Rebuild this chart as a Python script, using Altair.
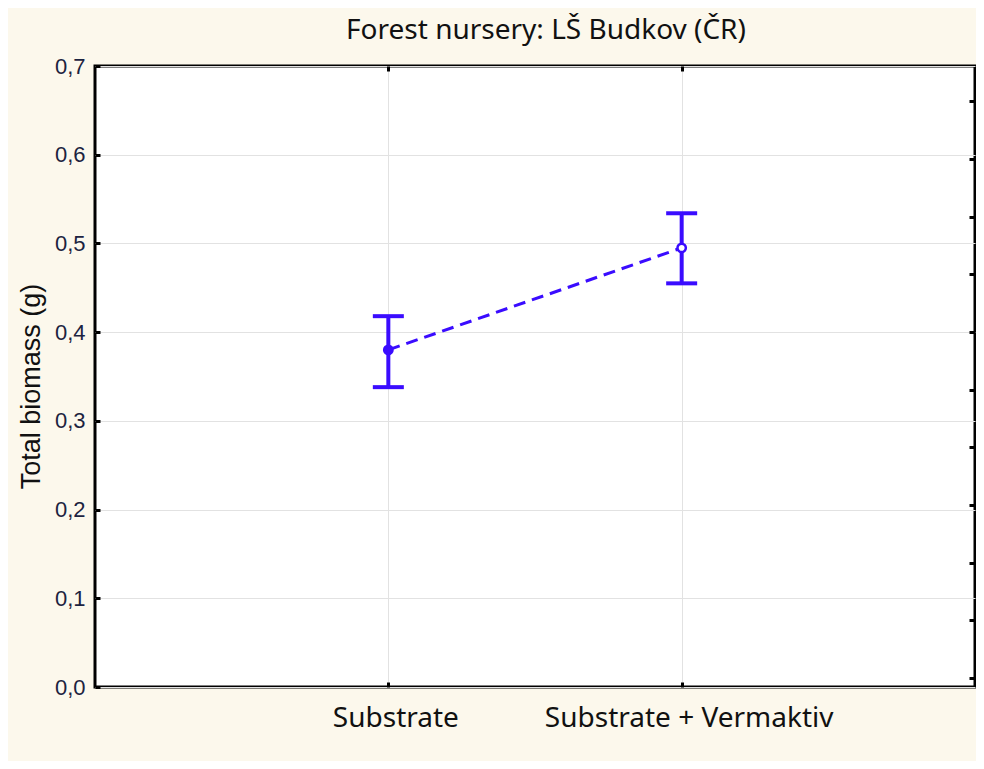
import altair as alt
import pandas as pd

categories = ["Substrate", "Substrate + Vermaktiv"]
means = [0.380, 0.495]
lower = [0.338, 0.455]
upper = [0.418, 0.534]
marker_style = ["filled", "open"]

y_ticks = [0.0, 0.1, 0.2, 0.3, 0.4, 0.5, 0.6, 0.7]
right_ticks = [0.010, 0.075, 0.140, 0.205, 0.270, 0.335, 0.400, 0.465, 0.530, 0.595, 0.660]

df = pd.DataFrame({
    "cat": categories,
    "mean": means,
    "lo": lower,
    "hi": upper,
    "style": marker_style,
})

BLUE = "#3a0cff"
IN = {"expr": "-5"}

xscale = alt.Scale(type="point", domain=categories, padding=1)
yscale = alt.Scale(domain=[0, 0.7], nice=False, zero=False)

base = alt.Chart(df)

bars = base.mark_rule(color=BLUE, strokeWidth=4, opacity=1).encode(
    x=alt.X("cat:N", scale=xscale, sort=categories,
            axis=alt.Axis(title=None, orient="bottom", grid=True, gridColor="#e2e2e2",
                          domain=False, ticks=True, tickSize=5, offset=IN, tickWidth=3,
                          tickColor="black", labelAngle=0, labelFont="Noto Sans",
                          labelFontSize=28, labelColor="#111111", labelPadding=17,
                          labelOffset=7, labelLimit=500)),
    y=alt.Y("lo:Q", scale=yscale,
            axis=alt.Axis(title="Total biomass (g)", orient="left", values=y_ticks,
                          format=".1f", labelExpr="replace(datum.label, '.', ',')",
                          grid=True, gridColor="#e2e2e2", domain=False,
                          ticks=True, tickSize=5, offset=IN, tickWidth=3, tickColor="black",
                          labelFont="Liberation Sans", labelFontSize=22,
                          labelColor="#1c2340", labelPadding=10,
                          titleFont="Liberation Sans", titleFontSize=27,
                          titleFontWeight="normal", titleColor="#111111",
                          titlePadding=9, titleY=320)),
    y2="hi:Q",
)

caps_lo = base.mark_tick(color=BLUE, thickness=4, size=31, opacity=1).encode(
    x=alt.X("cat:N", scale=xscale, sort=categories, axis=None),
    y=alt.Y("lo:Q", scale=yscale, axis=None),
)
caps_hi = base.mark_tick(color=BLUE, thickness=4, size=31, opacity=1).encode(
    x=alt.X("cat:N", scale=xscale, sort=categories, axis=None),
    y=alt.Y("hi:Q", scale=yscale, axis=None),
)

line = base.mark_line(color=BLUE, strokeWidth=3, strokeDash=[12, 7]).encode(
    x=alt.X("cat:N", scale=xscale, sort=categories, axis=None),
    y=alt.Y("mean:Q", scale=yscale, axis=None),
)

points = base.mark_point(shape="circle", size=70, filled=True, stroke=BLUE,
                         strokeWidth=2.5, opacity=1).encode(
    x=alt.X("cat:N", scale=xscale, sort=categories,
            axis=alt.Axis(title=None, orient="top", grid=False, domain=False,
                          labels=False, ticks=True, tickSize=5, offset=IN,
                          tickWidth=3, tickColor="black")),
    y=alt.Y("mean:Q", scale=yscale,
            axis=alt.Axis(title=None, orient="right", values=right_ticks, grid=False,
                          domain=False, labels=False, ticks=True,
                          tickSize=6, offset={"expr": "-6"}, tickWidth=3,
                          tickColor="black")),
    fill=alt.Fill("style:N", scale=alt.Scale(domain=["filled", "open"],
                                              range=[BLUE, "white"]), legend=None),
)

chart = alt.layer(bars, caps_lo, caps_hi, line, points).resolve_axis(
    x="independent", y="independent"
).properties(
    width=880,
    height=621,
    autosize="none",
    padding={"left": 87, "top": 58, "right": 1, "bottom": 74},
    background="#fcf8ec",
    title=alt.TitleParams("Forest nursery: LŠ Budkov (ČR)", font="Noto Sans",
                          fontSize=28, fontWeight="normal", color="#111111",
                          anchor="middle", offset=10, dx=11),
).configure_view(
    stroke="black", strokeWidth=3, fill="white"
)

chart.save("out.html", embed_options={"renderer": "svg", "actions": False})
